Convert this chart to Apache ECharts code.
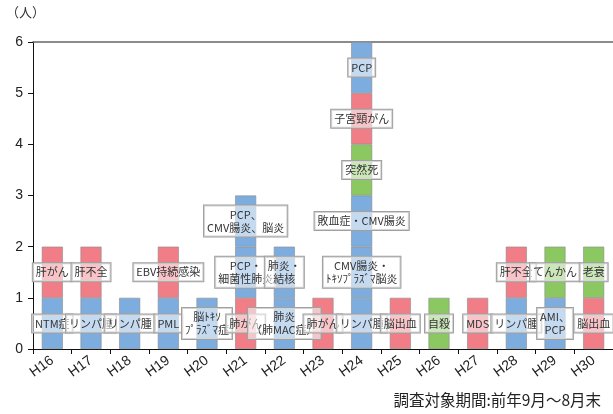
<!DOCTYPE html>
<html><head><meta charset="utf-8">
<script src="https://cdn.jsdelivr.net/npm/echarts@6/dist/echarts.min.js"></script>
<style>html,body{margin:0;padding:0;background:#fff}#c{width:613px;height:414px}</style>
</head><body><div id="c"></div>
<script>
const years = ['H16','H17','H18','H19','H20','H21','H22','H23','H24','H25','H26','H27','H28','H29','H30'];
// causes per year, bottom to top (1 person each)
const causes = [
  ['NTM症','肝がん'],
  ['リンパ腫','肝不全'],
  ['リンパ腫'],
  ['PML','EBV持続感染'],
  ['脳ﾄｷｿ\nﾌﾟﾗｽﾞﾏ症'],
  ['肺がん','PCP・\n細菌性肺炎','PCP、\nCMV腸炎、脳炎'],
  ['肺炎\n（肺MAC症）','肺炎・\n結核'],
  ['肺がん'],
  ['リンパ腫','CMV腸炎・\nﾄｷｿﾌﾟﾗｽﾞﾏ脳炎','敗血症・CMV腸炎','突然死','子宮頸がん','PCP'],
  ['脳出血'],
  ['自殺'],
  ['MDS'],
  ['リンパ腫','肝不全'],
  ['AMI、\nPCP','てんかん'],
  ['脳出血','老衰']
];
// group of each cause: A = blue, B = red, C = green
const groups = [
  ['A','B'],
  ['A','B'],
  ['A'],
  ['A','B'],
  ['A'],
  ['B','A','A'],
  ['A','A'],
  ['B'],
  ['A','A','A','C','B','A'],
  ['B'],
  ['C'],
  ['B'],
  ['A','B'],
  ['A','C'],
  ['B','C']
];
const groupColors = {A:'#7DADDF', B:'#F17D86', C:'#8CC862'};
const yTicks = [0,1,2,3,4,5,6];

const maxLevel = Math.max(...causes.map(c => c.length));
const series = [];
for (let k = 0; k < maxLevel; k++) {
  series.push({
    type: 'bar', stack: 'total', barWidth: 21,
    itemStyle: {borderColor: '#8a8a8a', borderWidth: 0.6},
    label: {
      show: true, position: 'inside', color: '#333', fontSize: 11, lineHeight: 13,
      fontFamily: 'Noto Sans CJK JP',
      backgroundColor: 'rgba(255,255,255,0.55)', borderColor: '#a0a0a0', borderWidth: 1,
      padding: [3, 3, 2, 3],
      formatter: p => causes[p.dataIndex][k]
    },
    data: years.map((y, i) => k < causes[i].length
      ? {value: 1, itemStyle: {color: groupColors[groups[i][k]]}}
      : '-')
  });
}

const chart = echarts.init(document.getElementById('c'), null, {renderer: 'canvas'});
chart.setOption({
  animation: false,
  grid: {left: 33, right: -6, top: 42, bottom: 65},
  xAxis: [{
    type: 'category', data: years,
    axisLine: {lineStyle: {color: '#111', width: 1}},
    axisTick: {show: true, length: 5, lineStyle: {color: '#111'}},
    axisLabel: {rotate: 36, color: '#222', fontSize: 14, fontFamily: 'Liberation Sans', margin: 10}
  }, {
    type: 'category', data: years, position: 'top',
    axisLine: {show: true, lineStyle: {color: '#666', width: 1.5}},
    axisTick: {show: false}, axisLabel: {show: false}
  }],
  yAxis: {
    type: 'value', min: yTicks[0], max: yTicks[yTicks.length-1], interval: 1,
    axisLine: {show: true, lineStyle: {color: '#111'}},
    axisTick: {show: true, length: 5, lineStyle: {color: '#111'}},
    splitLine: {show: false},
    axisLabel: {color: '#222', fontSize: 14, fontFamily: 'Liberation Sans', margin: 10}
  },
  series: series,
  graphic: [
    {type: 'text', left: 6, top: 6, style: {text: '（人）', fontSize: 13, fill: '#333', fontFamily: 'Noto Sans CJK JP'}},
    {type: 'text', right: 12, top: 392, style: {text: '調査対象期間:前年9月～8月末', fontSize: 15.5, fill: '#222', fontFamily: 'Noto Sans CJK JP'}}
  ]
});
</script></body></html>
